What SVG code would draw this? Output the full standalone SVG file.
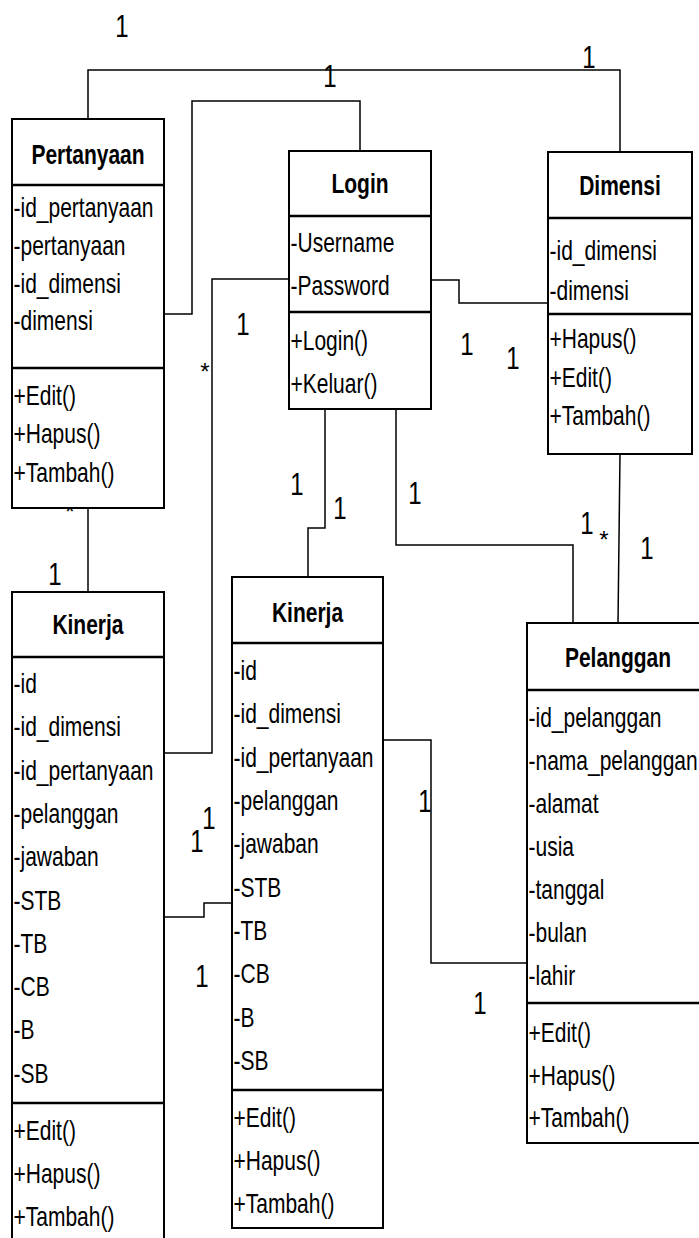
<svg xmlns="http://www.w3.org/2000/svg" width="699" height="1238" viewBox="0 0 699 1238">
<style>
.box{fill:#fff;stroke:#000;stroke-width:2}
.dv{stroke:#000;stroke-width:2.5}
.t{font-family:"Liberation Sans",Arial,sans-serif;font-size:28px;fill:#000}
.h{font-weight:bold;text-anchor:middle}
.c{fill:none;stroke:#000;stroke-width:1.5}
.l{font-family:"Liberation Sans",Arial,sans-serif;font-size:32px;fill:#000;text-anchor:middle}
.s{font-family:"Liberation Sans",Arial,sans-serif;font-size:24px;fill:#000;text-anchor:middle}
</style>
<rect width="699" height="1238" fill="#fff"/>
<g id="connectors">
<polyline class="c" points="88,119 88,70 620,70 620,152"/>
<polyline class="c" points="164,314 192,314 192,101 360,101 360,151"/>
<polyline class="c" points="289,279 212,279 212,753 164,753"/>
<polyline class="c" points="431,280 459,280 459,303 548,303"/>
<polyline class="c" points="325,409 325,528 308,528 308,577"/>
<polyline class="c" points="396,409 396,545 573,545 573,623"/>
<polyline class="c" points="620,454 618,623"/>
<polyline class="c" points="88,508 88,592"/>
<polyline class="c" points="164,917 204,917 204,903 232,903"/>
<polyline class="c" points="383,740 431,740 431,963 527,963"/>
<text class="l" transform="translate(122,37) scale(.75,1)">1</text>
<text class="l" transform="translate(330,87) scale(.75,1)">1</text>
<text class="l" transform="translate(589,68) scale(.75,1)">1</text>
<text class="l" transform="translate(243,335) scale(.75,1)">1</text>
<text class="s" x="205" y="380">*</text>
<text class="l" transform="translate(467,355) scale(.75,1)">1</text>
<text class="l" transform="translate(513,369) scale(.75,1)">1</text>
<text class="l" transform="translate(297,495) scale(.75,1)">1</text>
<text class="l" transform="translate(340,519) scale(.75,1)">1</text>
<text class="l" transform="translate(415,504) scale(.75,1)">1</text>
<text class="l" transform="translate(587,534) scale(.75,1)">1</text>
<text class="s" x="604" y="548">*</text>
<text class="l" transform="translate(647,559) scale(.75,1)">1</text>
<text class="s" x="70" y="520" font-size="18">*</text>
<text class="l" transform="translate(55,585) scale(.75,1)">1</text>
<text class="l" transform="translate(197,852) scale(.75,1)">1</text>
<text class="l" transform="translate(209,829) scale(.75,1)">1</text>
<text class="l" transform="translate(202,987) scale(.75,1)">1</text>
<text class="l" transform="translate(425,812) scale(.75,1)">1</text>
<text class="l" transform="translate(480,1014) scale(.75,1)">1</text>
</g>
<g id="pertanyaan">
<rect class="box" x="12" y="119" width="152" height="389"/>
<line class="dv" x1="12" y1="185" x2="164" y2="185"/>
<line class="dv" x1="12" y1="368" x2="164" y2="368"/>
<g class="t" transform="translate(12,0) scale(.75,1)">
<text class="h" x="101.3" y="164">Pertanyaan</text>
<text x="2" y="217">-id_pertanyaan</text>
<text x="2" y="255">-pertanyaan</text>
<text x="2" y="293">-id_dimensi</text>
<text x="2" y="330">-dimensi</text>
<text x="2" y="405">+Edit()</text>
<text x="2" y="443">+Hapus()</text>
<text x="2" y="482">+Tambah()</text>
</g>
</g>
<g id="login">
<rect class="box" x="289" y="151" width="142" height="258"/>
<line class="dv" x1="289" y1="216" x2="431" y2="216"/>
<line class="dv" x1="289" y1="312" x2="431" y2="312"/>
<g class="t" transform="translate(289,0) scale(.75,1)">
<text class="h" x="94.7" y="193">Login</text>
<text x="2" y="252">-Username</text>
<text x="2" y="295">-Password</text>
<text x="2" y="350">+Login()</text>
<text x="2" y="393">+Keluar()</text>
</g>
</g>
<g id="dimensi">
<rect class="box" x="548" y="152" width="144" height="302"/>
<line class="dv" x1="548" y1="218" x2="692" y2="218"/>
<line class="dv" x1="548" y1="314" x2="692" y2="314"/>
<g class="t" transform="translate(548,0) scale(.75,1)">
<text class="h" x="96" y="195">Dimensi</text>
<text x="2" y="260">-id_dimensi</text>
<text x="2" y="300">-dimensi</text>
<text x="2" y="348">+Hapus()</text>
<text x="2" y="387">+Edit()</text>
<text x="2" y="425">+Tambah()</text>
</g>
</g>
<g id="kinerja-left">
<rect class="box" x="12" y="592" width="152" height="650"/>
<line class="dv" x1="12" y1="657" x2="164" y2="657"/>
<line class="dv" x1="12" y1="1103" x2="164" y2="1103"/>
<g class="t" transform="translate(12,0) scale(.75,1)">
<text class="h" x="101.3" y="634">Kinerja</text>
<text x="2" y="693">-id</text>
<text x="2" y="736">-id_dimensi</text>
<text x="2" y="780">-id_pertanyaan</text>
<text x="2" y="823">-pelanggan</text>
<text x="2" y="866">-jawaban</text>
<text x="2" y="910">-STB</text>
<text x="2" y="953">-TB</text>
<text x="2" y="996">-CB</text>
<text x="2" y="1039">-B</text>
<text x="2" y="1083">-SB</text>
<text x="2" y="1140">+Edit()</text>
<text x="2" y="1183">+Hapus()</text>
<text x="2" y="1226">+Tambah()</text>
</g>
</g>
<g id="kinerja-middle">
<rect class="box" x="232" y="577" width="151" height="651"/>
<line class="dv" x1="232" y1="643" x2="383" y2="643"/>
<line class="dv" x1="232" y1="1090" x2="383" y2="1090"/>
<g class="t" transform="translate(232,0) scale(.75,1)">
<text class="h" x="100.7" y="622">Kinerja</text>
<text x="2" y="680">-id</text>
<text x="2" y="723">-id_dimensi</text>
<text x="2" y="767">-id_pertanyaan</text>
<text x="2" y="810">-pelanggan</text>
<text x="2" y="853">-jawaban</text>
<text x="2" y="897">-STB</text>
<text x="2" y="940">-TB</text>
<text x="2" y="983">-CB</text>
<text x="2" y="1027">-B</text>
<text x="2" y="1070">-SB</text>
<text x="2" y="1127">+Edit()</text>
<text x="2" y="1170">+Hapus()</text>
<text x="2" y="1213">+Tambah()</text>
</g>
</g>
<g id="pelanggan">
<rect class="box" x="527" y="623" width="190" height="520"/>
<line class="dv" x1="527" y1="690" x2="717" y2="690"/>
<line class="dv" x1="527" y1="1003" x2="717" y2="1003"/>
<g class="t" transform="translate(527,0) scale(.75,1)">
<text class="h" x="121.3" y="667">Pelanggan</text>
<text x="2" y="727">-id_pelanggan</text>
<text x="2" y="770">-nama_pelanggan</text>
<text x="2" y="813">-alamat</text>
<text x="2" y="856">-usia</text>
<text x="2" y="899">-tanggal</text>
<text x="2" y="942">-bulan</text>
<text x="2" y="985">-lahir</text>
<text x="2" y="1042">+Edit()</text>
<text x="2" y="1085">+Hapus()</text>
<text x="2" y="1127">+Tambah()</text>
</g>
</g>
</svg>
